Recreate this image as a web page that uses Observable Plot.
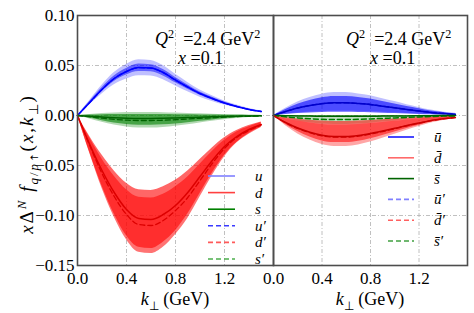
<!DOCTYPE html>
<html><head><meta charset="utf-8">
<script src="https://cdn.jsdelivr.net/npm/d3@7"></script>
<script src="https://cdn.jsdelivr.net/npm/@observablehq/plot@0.6"></script>
<style>
body{margin:0;background:#fff}
#wrap{position:relative;width:474px;height:313px;font-family:"Liberation Serif",serif;color:#000;overflow:hidden}
#wrap svg{position:absolute;top:0;overflow:visible}
.t{position:absolute;white-space:nowrap;font-size:18px;line-height:18px}
.t sup,.t sub{font-size:0.68em;line-height:0}
.lg{font-size:15px;line-height:12px}
.ann{line-height:14px}
.arr{font-family:"DejaVu Sans",sans-serif;font-style:normal;font-size:0.8em}
</style></head><body><div id="wrap"></div>
<script>
// ---------- data ----------
const kPerp = [0,0.1,0.2,0.3,0.4,0.5,0.6,0.7,0.8,0.9,1.0,1.1,1.2,1.3,1.4,1.5];
const xTicks = [0,0.4,0.8,1.2];
const yTicks = [-0.15,-0.10,-0.05,0,0.05,0.10];

// left panel: quarks
const u    = [0,0.013,0.026,0.037,0.044,0.048,0.0475,0.043,0.0355,0.0285,0.022,0.017,0.0125,0.009,0.006,0.004];
const uLo  = [0,0.012,0.024,0.034,0.0405,0.044,0.0437,0.0396,0.0327,0.0262,0.0202,0.0156,0.0115,0.0083,0.0055,0.0037];
const uHi  = [0,0.0139,0.0278,0.0396,0.0471,0.0514,0.0508,0.046,0.038,0.0305,0.0235,0.0182,0.0134,0.0096,0.0064,0.0043];
const uP   = [0,0.013,0.026,0.037,0.044,0.0478,0.0473,0.0428,0.0353,0.0284,0.0219,0.017,0.0125,0.009,0.006,0.004];
const uPLo = [0,0.0108,0.0216,0.0307,0.0365,0.0398,0.0394,0.0357,0.0295,0.0237,0.0183,0.0141,0.0104,0.0075,0.005,0.0033];
const uPHi = [0,0.0151,0.0302,0.0429,0.051,0.0557,0.0551,0.0499,0.0412,0.0331,0.0255,0.0197,0.0145,0.0104,0.007,0.0046];

const d    = [0,-0.029,-0.055,-0.077,-0.094,-0.103,-0.104,-0.099,-0.090,-0.077,-0.061,-0.045,-0.031,-0.021,-0.014,-0.009];
const dHi  = [0,-0.0209,-0.0396,-0.0554,-0.0677,-0.0742,-0.0749,-0.0713,-0.0648,-0.0554,-0.0439,-0.0324,-0.0223,-0.0151,-0.0101,-0.0065];
const dLo  = [0,-0.0371,-0.0704,-0.0986,-0.1203,-0.1318,-0.1331,-0.1267,-0.1152,-0.0986,-0.0781,-0.0576,-0.0397,-0.0269,-0.0179,-0.0115];
const dP   = [0,-0.030,-0.058,-0.081,-0.099,-0.109,-0.110,-0.105,-0.095,-0.082,-0.065,-0.048,-0.033,-0.022,-0.015,-0.0095];
const dPHi = [0,-0.0225,-0.0435,-0.0608,-0.0743,-0.0818,-0.0825,-0.0788,-0.0713,-0.0615,-0.0488,-0.036,-0.0248,-0.0165,-0.0113,-0.0071];
const dPLo = [0,-0.0377,-0.0728,-0.1017,-0.1242,-0.1368,-0.1381,-0.1318,-0.1192,-0.1029,-0.0816,-0.0602,-0.0414,-0.0276,-0.0188,-0.0119];

const s    = [0,-0.0008,-0.0016,-0.0023,-0.0028,-0.003,-0.003,-0.0028,-0.0025,-0.0021,-0.0017,-0.0013,-0.001,-0.0007,-0.0005,-0.0003];
const sHi  = [0,0.0004,0.0007,0.0009,0.001,0.001,0.001,0.0009,0.0008,0.0007,0.0005,0.0004,0.0003,0.0002,0.0001,0.0001];
const sLo  = [0,-0.0025,-0.0052,-0.0075,-0.009,-0.0098,-0.0098,-0.0093,-0.0084,-0.0072,-0.0058,-0.0045,-0.0033,-0.0023,-0.0015,-0.001];
const sP   = [0,-0.0013,-0.0027,-0.0038,-0.0046,-0.005,-0.005,-0.0047,-0.0042,-0.0035,-0.0028,-0.0022,-0.0016,-0.0011,-0.0008,-0.0005];
const sPHi = [0,0.001,0.002,0.0026,0.003,0.0031,0.003,0.0028,0.0025,0.0021,0.0017,0.0013,0.001,0.0007,0.0005,0.0003];
const sPLo = [0,-0.0035,-0.0068,-0.0095,-0.0115,-0.0126,-0.0126,-0.012,-0.0108,-0.0093,-0.0075,-0.0058,-0.0043,-0.003,-0.002,-0.0013];

// right panel: antiquarks
const ub    = [0,0.004,0.0075,0.010,0.0118,0.0127,0.0127,0.012,0.011,0.0093,0.0077,0.006,0.0045,0.003,0.002,0.0012];
const ubLo  = [0,0.001,0.0019,0.0025,0.003,0.0032,0.0032,0.003,0.0028,0.0023,0.0019,0.0015,0.0011,0.0008,0.0005,0.0003];
const ubHi  = [0,0.006,0.0113,0.015,0.0177,0.019,0.019,0.018,0.0165,0.014,0.0116,0.009,0.0068,0.0045,0.003,0.0018];
const ubP   = [0,0.004,0.0075,0.010,0.0118,0.0127,0.0127,0.012,0.011,0.0093,0.0077,0.006,0.0045,0.003,0.002,0.0012];
const ubPLo = [0,0.0014,0.0026,0.0035,0.0041,0.0044,0.0044,0.0042,0.0039,0.0033,0.0027,0.0021,0.0016,0.0011,0.0007,0.0004];
const ubPHi = [0,0.0072,0.0135,0.018,0.0212,0.0229,0.0229,0.0216,0.0198,0.0167,0.0139,0.0108,0.0081,0.0054,0.0036,0.0022];

const db    = [0,-0.007,-0.0125,-0.0167,-0.0197,-0.021,-0.021,-0.020,-0.018,-0.0155,-0.0128,-0.010,-0.0075,-0.005,-0.0033,-0.002];
const dbHi  = [0,-0.002,-0.0035,-0.0047,-0.0055,-0.0059,-0.0059,-0.0056,-0.005,-0.0043,-0.0036,-0.0028,-0.0021,-0.0014,-0.0009,-0.0006];
const dbLo  = [0,-0.009,-0.0161,-0.0215,-0.0254,-0.0271,-0.0271,-0.0258,-0.0232,-0.02,-0.0165,-0.0129,-0.0097,-0.0065,-0.0043,-0.0026];
const dbP   = [0,-0.0072,-0.0129,-0.0172,-0.0203,-0.0216,-0.0216,-0.0206,-0.0185,-0.016,-0.0132,-0.0103,-0.0077,-0.0052,-0.0034,-0.0021];
const dbPHi = [0,-0.0032,-0.0056,-0.0075,-0.0089,-0.0095,-0.0095,-0.009,-0.0081,-0.007,-0.0058,-0.0045,-0.0034,-0.0023,-0.0015,-0.0009];
const dbPLo = [0,-0.0103,-0.0184,-0.0245,-0.029,-0.0309,-0.0309,-0.0294,-0.0265,-0.0228,-0.0188,-0.0147,-0.011,-0.0074,-0.0049,-0.0029];

const sb    = [0,-0.0002,-0.0004,-0.0006,-0.0007,-0.0008,-0.0008,-0.0008,-0.0007,-0.0006,-0.0005,-0.0004,-0.0003,-0.0002,-0.0001,-0.0001];
const sbHi  = [0,0,0,0,0,0,0,0,0,0,0,0,0,0,0,0];
const sbLo  = [0,-0.0005,-0.001,-0.0015,-0.0018,-0.002,-0.002,-0.002,-0.0018,-0.0015,-0.0013,-0.001,-0.0008,-0.0005,-0.0003,-0.0002];
const sbP   = [0,-0.0013,-0.0024,-0.0032,-0.0038,-0.004,-0.004,-0.0038,-0.0034,-0.0029,-0.0024,-0.0019,-0.0014,-0.001,-0.0006,-0.0004];
const sbPHi = [0,0,0,0,0,0,0,0,0,0,0,0,0,0,0,0];
const sbPLo = [0,-0.0029,-0.0054,-0.0072,-0.0085,-0.009,-0.009,-0.0085,-0.0077,-0.0065,-0.0054,-0.0043,-0.0032,-0.0023,-0.0014,-0.0009];

// ---------- series configuration ----------
const leftSeries = [
  {y:uP, lo:uPLo, hi:uPHi, color:"#0000ff", band:0.25, dash:"5,3", lw:1.3, line:"#0000ff"},
  {y:u,  lo:uLo,  hi:uHi,  color:"#0000ff", band:0.5,  dash:null,  lw:1.5, line:"#0000ff"},
  {y:dP, lo:dPLo, hi:dPHi, color:"#ff0000", band:0.55, dash:"5,3", lw:1.3, line:"#dd0000"},
  {y:d,  lo:dLo,  hi:dHi,  color:"#ff0000", band:0.6,  dash:null,  lw:1.5, line:"#dd0000"},
  {y:sP, lo:sPLo, hi:sPHi, color:"#008000", band:0.3,  dash:"5,3", lw:1.3, line:"#006400"},
  {y:s,  lo:sLo,  hi:sHi,  color:"#008000", band:0.6,  dash:null,  lw:1.5, line:"#006400"}
];
const rightSeries = [
  {y:ubP, lo:ubPLo, hi:ubPHi, color:"#0000ff", band:0.25, dash:"5,3", lw:1.3, line:"#0000cc"},
  {y:ub,  lo:ubLo,  hi:ubHi,  color:"#0000ff", band:0.6,  dash:null,  lw:1.5, line:"#0000cc"},
  {y:sbP, lo:sbPLo, hi:sbPHi, color:"#008000", band:0.25, dash:"5,3", lw:1.5, line:"#008000"},
  {y:sb,  lo:sbLo,  hi:sbHi,  color:"#008000", band:0.3,  dash:null,  lw:1.5, line:"#006400"},
  {y:dbP, lo:dbPLo, hi:dbPHi, color:"#ff0000", band:0.35, dash:"5,3", lw:1.3, line:"#cc0000"},
  {y:db,  lo:dbLo,  hi:dbHi,  color:"#ff0000", band:0.55, dash:null,  lw:1.5, line:"#cc0000"}
];

function rows(sr){ return kPerp.map((k,i)=>({k, y:sr.y[i], lo:sr.lo[i], hi:sr.hi[i]})); }

function panel(series, opts){
  const marks = [
    Plot.ruleX(xTicks.filter(v=>v>0), {stroke:"#b0b0b0", strokeWidth:0.8, strokeDasharray:"4,2,1,2"}),
    Plot.ruleY(yTicks, {stroke:"#b0b0b0", strokeWidth:0.8, strokeDasharray:"4,2,1,2"})
  ];
  for (const sr of series) marks.push(Plot.areaY(rows(sr), {x:"k", y1:"lo", y2:"hi", fill:sr.color, fillOpacity:sr.band, curve:"monotone-x"}));
  for (const sr of series) marks.push(Plot.line(rows(sr), {x:"k", y:"y", stroke:sr.line, strokeWidth:sr.lw, strokeDasharray:sr.dash, curve:"monotone-x"}));
  marks.push(Plot.frame({stroke:"#4d4d4d", strokeWidth:1.6}));
  return Plot.plot(Object.assign({
    height:313, marginTop:15, marginBottom:48,
    x:{domain:[0,1.6], ticks:xTicks, tickFormat:d3.format(".1f"), tickSize:0, tickPadding:6, label:null},
    y:{domain:[-0.15,0.10], ticks:yTicks, tickFormat:d3.format(".2f"), tickSize:0, tickPadding:3, label:null},
    style:{fontFamily:"Liberation Serif", fontSize:"17px", background:"transparent", overflow:"visible", color:"#000"},
    marks
  }, opts));
}

const wrap = document.getElementById("wrap");
const L = panel(leftSeries, {width:273, marginLeft:77, marginRight:0});
L.style.left = "0px";
wrap.appendChild(L);
const R = panel(rightSeries, {width:201, marginLeft:0, marginRight:7, y:{domain:[-0.15,0.10], axis:null}});
R.style.left = "273px";
wrap.appendChild(R);

// ---------- legends ----------
const leftLegend = [
  {lab:"<i>u</i>",  c:"#8080ff", dash:null},
  {lab:"<i>d</i>",  c:"#ff4040", dash:null},
  {lab:"<i>s</i>",  c:"#008000", dash:null},
  {lab:"<i>u′</i>", c:"#3a3aff", dash:"5,3"},
  {lab:"<i>d′</i>", c:"#ff5a5a", dash:"5,3"},
  {lab:"<i>s′</i>", c:"#4caf4c", dash:"5,3"}
];
const rightLegend = [
  {lab:"<i>u\u0304</i>",  c:"#1a1aff", dash:null},
  {lab:"<i>d\u0304</i>",  c:"#ff6a6a", dash:null},
  {lab:"<i>s\u0304</i>",  c:"#006400", dash:null},
  {lab:"<i>u\u0304′</i>", c:"#8080ff", dash:"5,3"},
  {lab:"<i>d\u0304′</i>", c:"#ff6060", dash:"5,3"},
  {lab:"<i>s\u0304′</i>", c:"#40a040", dash:"5,3"}
];
const ov = d3.select(wrap).append("svg").attr("width",474).attr("height",313).style("left","0px");
function txt(html, left, top, cls){
  const el = document.createElement("div");
  el.className = "t" + (cls ? " " + cls : ""); el.style.left = left+"px"; el.style.top = top+"px";
  el.innerHTML = html; wrap.appendChild(el); return el;
}
function legend(items, x0, x1, tx, y0, dy){
  items.forEach((it,i)=>{
    const y = y0 + i*dy;
    ov.append("line").attr("x1",x0).attr("x2",x1).attr("y1",y).attr("y2",y)
      .attr("stroke",it.c).attr("stroke-width",1.6).attr("stroke-dasharray",it.dash);
    txt(it.lab, tx, y-6, "lg");
  });
}
legend(leftLegend, 208, 235, 255, 176, 16.6);
legend(rightLegend, 388, 414, 434, 137, 20.8);

// ---------- annotations & axis labels ----------
txt("<i>Q</i><sup>2</sup>&nbsp;&nbsp;=2.4 GeV<sup>2</sup>", 155, 32, "ann");
txt("<i>x</i>&nbsp;=0.1", 178, 51, "ann");
txt("<i>Q</i><sup>2</sup>&nbsp;&nbsp;=2.4 GeV<sup>2</sup>", 346, 32, "ann");
txt("<i>x</i>&nbsp;=0.1", 370, 51, "ann");
const xl1 = txt("<i>k</i><sub>⊥</sub> (GeV)", 175, 290); xl1.style.transform = "translateX(-50%)";
const xl2 = txt("<i>k</i><sub>⊥</sub> (GeV)", 370, 290); xl2.style.transform = "translateX(-50%)";
const yl = txt("<i>x</i>Δ<sup><i>N</i></sup>&nbsp;<i>f</i><sub><i>q</i>/<i>p</i><span class='arr'>↑</span></sub>(<i>x</i>,<i>k</i><sub>⊥</sub>)", 27, 164);
yl.style.transform = "translate(-50%,-50%) rotate(-90deg)";
yl.style.fontSize = "19px";
yl.style.letterSpacing = "2px";
</script></body></html>
